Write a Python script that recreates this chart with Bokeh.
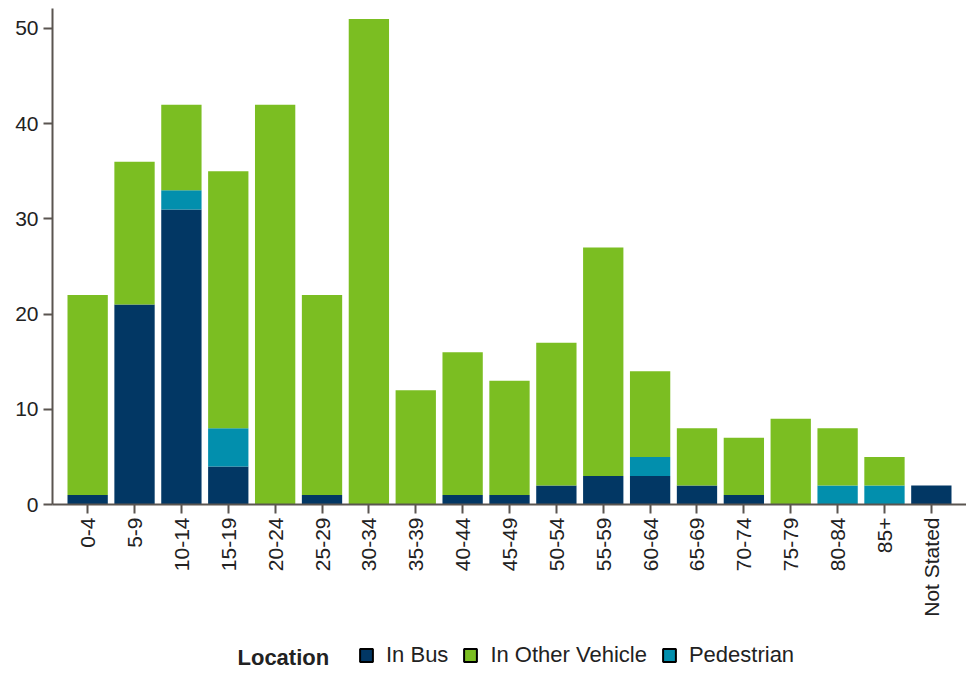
import math
from bokeh.plotting import figure
from bokeh.layouts import column
from bokeh.models import ColumnDataSource, FactorRange, Legend, LegendItem, Label
from bokeh.embed import file_html
from bokeh.resources import INLINE

categories = ["0-4", "5-9", "10-14", "15-19", "20-24", "25-29", "30-34", "35-39",
              "40-44", "45-49", "50-54", "55-59", "60-64", "65-69", "70-74",
              "75-79", "80-84", "85+", "Not Stated"]
in_bus = [1, 21, 31, 4, 0, 1, 0, 0, 1, 1, 2, 3, 3, 2, 1, 0, 0, 0, 2]
pedestrian = [0, 0, 2, 4, 0, 0, 0, 0, 0, 0, 0, 0, 2, 0, 0, 0, 2, 2, 0]
in_other_vehicle = [21, 15, 9, 27, 42, 21, 51, 12, 15, 12, 15, 24, 9, 6, 6, 9, 6, 3, 0]
y_ticks = [0, 10, 20, 30, 40, 50]

series = ["In Bus", "Pedestrian", "In Other Vehicle"]
colors = {"In Bus": "#023764", "Pedestrian": "#028FAD", "In Other Vehicle": "#7BBE22"}
legend_order = ["In Bus", "In Other Vehicle", "Pedestrian"]
legend_title = "Location"

W = 966
source = ColumnDataSource(dict(cat=categories, **{"In Bus": in_bus, "Pedestrian": pedestrian,
                                                  "In Other Vehicle": in_other_vehicle}))

p = figure(x_range=FactorRange(*categories, range_padding=0.25, range_padding_units="absolute"),
           y_range=(0, 52.1), width=W, height=619, output_backend="svg",
           toolbar_location=None, min_border_left=52, min_border_right=0, min_border_top=8,
           min_border_bottom=112)

p.vbar_stack(series, x="cat", width=0.86, source=source,
             color=[colors[s] for s in series], line_color=None)

p.xgrid.grid_line_color = None
p.ygrid.grid_line_color = None
p.outline_line_color = None

for ax in (p.xaxis, p.yaxis):
    ax.axis_line_color = "#5A5550"
    ax.axis_line_width = 2
    ax.major_tick_line_color = "#5A5550"
    ax.major_tick_line_width = 2
    ax.minor_tick_line_color = None
    ax.major_label_text_font = "Liberation Sans"
    ax.major_label_text_font_size = "21px"
    ax.major_label_text_color = "#222222"
    ax.major_tick_out = 9
    ax.major_tick_in = 0

p.yaxis.ticker = y_ticks
p.yaxis.major_label_standoff = 5
p.xaxis.major_label_orientation = math.pi / 2
p.xaxis.major_label_standoff = 4

# Legend strip below the chart (its frame is aligned with the chart frame)
lp = figure(width=W, height=52, x_range=(0, 1), y_range=(0, 1), output_backend="svg",
            toolbar_location=None, x_axis_location=None, y_axis_location=None,
            min_border=0, outline_line_color=None)
lp.xgrid.grid_line_color = None
lp.ygrid.grid_line_color = None

items = []
for s in legend_order:
    r = lp.vbar(x=[float("nan")], top=[float("nan")], bottom=[float("nan")], width=0.1,
                fill_color=colors[s], line_color="black", line_width=2)
    items.append(LegendItem(label=s, renderers=[r]))

legend = Legend(items=items, orientation="horizontal", location=(306, 3),
                label_text_font="Liberation Sans", label_text_font_size="22px",
                label_text_color="#222222", label_text_baseline="middle",
                glyph_width=16, glyph_height=16, spacing=14, label_standoff=12,
                padding=0, margin=0, border_line_color=None, background_fill_alpha=0)
lp.add_layout(legend)

title_lbl = Label(x=185, y=14, x_units="screen", y_units="screen", text=legend_title,
                  text_font="Liberation Sans", text_font_size="22px", text_font_style="bold",
                  text_color="#222222", text_baseline="middle")
lp.add_layout(title_lbl)

layout = column(p, lp, spacing=0)
open("out.html", "w").write(file_html(layout, INLINE))
